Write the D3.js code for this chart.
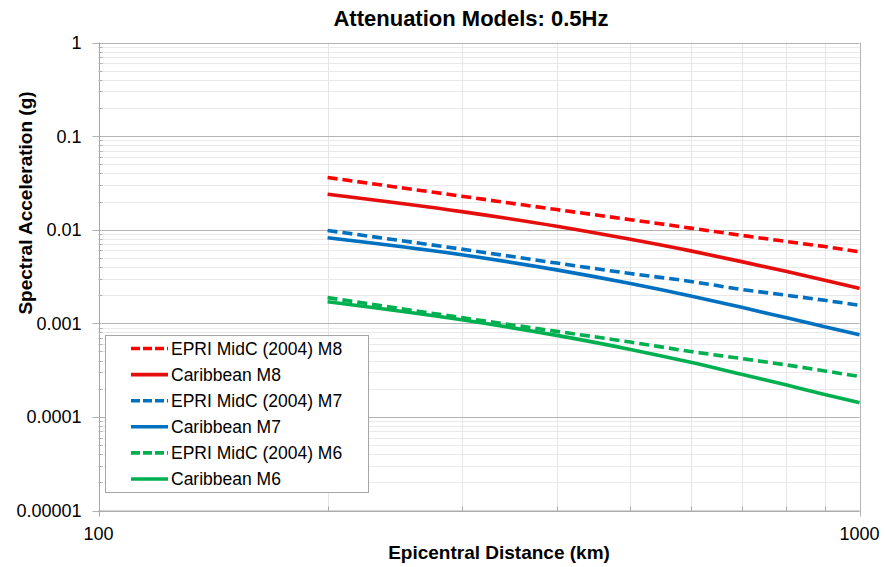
<!DOCTYPE html>
<html><head><meta charset="utf-8">
<script src="https://cdn.jsdelivr.net/npm/d3@7"></script>
<style>
html,body{margin:0;padding:0;background:#fff;}
text{font-family:"Liberation Sans",Arial,sans-serif;fill:#000;}
</style></head>
<body><svg id="chart" width="885" height="567"></svg>
<script>
const distances = [200,300,400,500,600,700,800,900,1000];
const epriM8  = [0.0361,0.0228,0.0164,0.0128,0.0104,0.0087,0.0075,0.0066,0.0058];
const caribM8 = [0.0239,0.0156,0.0109,0.0079,0.00594,0.00456,0.00359,0.00289,0.00236];
const epriM7  = [0.0098,0.0062,0.0044,0.0034,0.0028,0.0023,0.0020,0.00176,0.00156];
const caribM7 = [0.0082,0.0054,0.00372,0.00266,0.00196,0.00148,0.00115,0.00092,0.000755];
const epriM6  = [0.00188,0.00115,0.00082,0.00063,0.00050,0.00042,0.00036,0.00031,0.00027];
const caribM6 = [0.00170,0.00109,0.000743,0.000526,0.000383,0.000285,0.00022,0.000174,0.000142];
const seriesNames = ["EPRI MidC (2004) M8","Caribbean M8","EPRI MidC (2004) M7","Caribbean M7","EPRI MidC (2004) M6","Caribbean M6"];
const yTickLabels = ["1","0.1","0.01","0.001","0.0001","0.00001"];
const xTickLabels = ["100","1000"];
const title = "Attenuation Models: 0.5Hz";
const xTitle = "Epicentral Distance (km)";
const yTitle = "Spectral Acceleration (g)";

const series = [
  {name:seriesNames[0], values:epriM8,  color:"#ff0000", dash:true},
  {name:seriesNames[1], values:caribM8, color:"#e60d0d", dash:false},
  {name:seriesNames[2], values:epriM7,  color:"#0070c0", dash:true},
  {name:seriesNames[3], values:caribM7, color:"#0070c0", dash:false},
  {name:seriesNames[4], values:epriM6,  color:"#00b050", dash:true},
  {name:seriesNames[5], values:caribM6, color:"#00b050", dash:false}
];

const svg = d3.select("#chart");
const L = 98.5, R = 859.5, T = 42.5, B = 510.5;
const x = d3.scaleLog().domain([100,1000]).range([L,R]);
const y = d3.scaleLog().domain([0.00001,1]).range([B,T]);

const minorY = [];
for (let e=-5;e<0;e++) for (let k=2;k<10;k++) minorY.push(k*Math.pow(10,e));
const minorX = [];
for (let k=2;k<10;k++) minorX.push(k*100);
const majorY = yTickLabels.map(Number);

const g = svg.append("g");
g.selectAll(".my").data(minorY).join("line")
  .attr("x1",L).attr("x2",R).attr("y1",d=>Math.round(y(d))+0.5).attr("y2",d=>Math.round(y(d))+0.5)
  .attr("stroke","#e9e9e9").attr("stroke-width",1);
g.selectAll(".mx").data(minorX).join("line")
  .attr("y1",T).attr("y2",B).attr("x1",d=>Math.round(x(d))+0.5).attr("x2",d=>Math.round(x(d))+0.5)
  .attr("stroke","#e8e4e8").attr("stroke-width",1);
g.selectAll(".My").data(majorY).join("line")
  .attr("x1",L-6).attr("x2",R).attr("y1",d=>Math.round(y(d))+0.5).attr("y2",d=>Math.round(y(d))+0.5)
  .attr("stroke","#b3b3b3").attr("stroke-width",1);
g.append("line").attr("x1",Math.round(x(1000))+0.5).attr("x2",Math.round(x(1000))+0.5)
  .attr("y1",T).attr("y2",B+6).attr("stroke","#b3b3b3");
g.append("line").attr("x1",Math.round(x(100))+0.5).attr("x2",Math.round(x(100))+0.5)
  .attr("y1",T).attr("y2",B+6).attr("stroke","#a6a6a6");
g.append("line").attr("x1",L).attr("x2",R).attr("y1",B+0.5).attr("y2",B+0.5).attr("stroke","#a6a6a6");
g.selectAll(".ty").data(minorY).join("line")
  .attr("x1",L).attr("x2",L+4).attr("y1",d=>Math.round(y(d))+0.5).attr("y2",d=>Math.round(y(d))+0.5)
  .attr("stroke","#b3b3b3");
g.selectAll(".tx").data(minorX).join("line")
  .attr("y1",B-4).attr("y2",B).attr("x1",d=>Math.round(x(d))+0.5).attr("x2",d=>Math.round(x(d))+0.5)
  .attr("stroke","#a6a6a6");

svg.selectAll(".yl").data(yTickLabels).join("text")
  .attr("x",L-17).attr("y",d=>y(+d)).attr("dy","0.36em").attr("text-anchor","end")
  .style("font-size","18px").text(d=>d);
svg.selectAll(".xl").data(xTickLabels).join("text")
  .attr("x",d=>x(+d)).attr("y",540).attr("text-anchor","middle")
  .style("font-size","18px").text(d=>d);

const line = d3.line().x((d,i)=>x(distances[i])).y(d=>y(d)).curve(d3.curveMonotoneX);
const plot = svg.append("g");
series.forEach(s=>{
  plot.append("path").datum(s.values).attr("d",line)
    .attr("fill","none").attr("stroke",s.color).attr("stroke-width",3.6)
    .attr("stroke-dasharray",s.dash?"10,5":null);
});

svg.append("text").attr("x",471).attr("y",26).attr("text-anchor","middle")
  .style("font-size","22px").style("font-weight","bold").text(title);
svg.append("text").attr("x",499).attr("y",559).attr("text-anchor","middle")
  .style("font-size","19px").style("font-weight","bold").text(xTitle);
svg.append("text").attr("transform","translate(32,203) rotate(-90)").attr("text-anchor","middle")
  .style("font-size","19px").style("font-weight","bold").text(yTitle);

const lg = svg.append("g");
lg.append("rect").attr("x",105.5).attr("y",335.5).attr("width",263).attr("height",157)
  .attr("fill","#fff").attr("stroke","#a6a6a6");
series.forEach((s,i)=>{
  const cy = 348.5 + i*26.1;
  lg.append("line").attr("x1",131).attr("x2",168).attr("y1",cy).attr("y2",cy)
    .attr("stroke",s.color).attr("stroke-width",3.6).attr("stroke-dasharray",s.dash?"9,3":null);
  lg.append("text").attr("x",171).attr("y",cy).attr("dy","0.36em")
    .style("font-size","17.5px").text(s.name);
});
</script></body></html>
